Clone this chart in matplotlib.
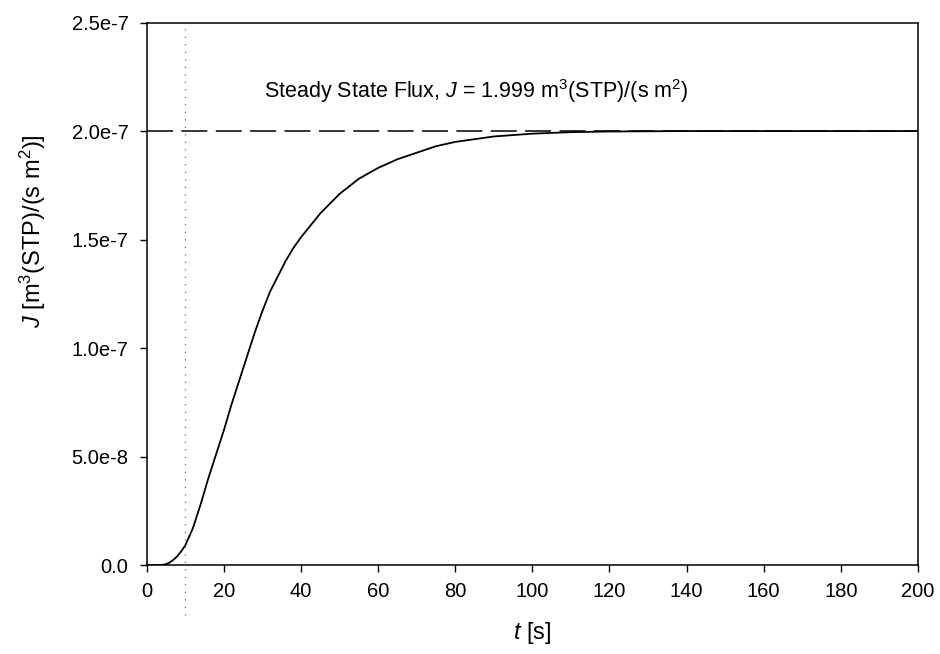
import matplotlib
matplotlib.use('Agg')
import matplotlib.pyplot as plt

plt.rcParams['font.family'] = ['Liberation Sans', 'DejaVu Sans']
plt.rcParams['mathtext.fontset'] = 'custom'
plt.rcParams['mathtext.rm'] = 'Liberation Sans'
plt.rcParams['mathtext.it'] = 'Liberation Sans:italic'

# flux curve (J in units of 1e-7)
t_s = [0, 3, 4, 5, 6, 7, 8, 9, 10, 12, 14, 16, 18, 20, 22, 24, 26, 28, 30, 32,
       34, 36, 38, 40, 45, 50, 55, 60, 65, 70, 75, 80, 90, 100, 110, 120, 140,
       160, 180, 200]
flux_e7 = [0, 0, 0.001, 0.004, 0.012, 0.025, 0.042, 0.064, 0.09, 0.17, 0.28,
           0.40, 0.51, 0.62, 0.74, 0.85, 0.96, 1.07, 1.17, 1.26, 1.33, 1.40,
           1.46, 1.51, 1.62, 1.71, 1.78, 1.83, 1.87, 1.90, 1.93, 1.95, 1.975,
           1.988, 1.995, 1.998, 2.0, 2.0, 2.0, 2.0]
flux = [v * 1e-7 for v in flux_e7]

j_steady = 2.0e-7
t_lag = 10
x_ticks = list(range(0, 201, 20))
y_ticks = [0.0, 0.5e-7, 1.0e-7, 1.5e-7, 2.0e-7, 2.5e-7]
y_tick_labels = ['0.0', '5.0e-8', '1.0e-7', '1.5e-7', '2.0e-7', '2.5e-7']

fig = plt.figure(figsize=(9.4, 6.54), dpi=100)
ax = fig.add_axes([0.156, 0.136, 0.8206, 0.8295])

ax.plot(t_s, flux, color='black', lw=1.3)
ax.plot([0, 200], [j_steady, j_steady], color='black', lw=1.1, dashes=(17, 5.5))
ax.plot([t_lag, t_lag], [-0.23e-7, 2.5e-7], color='#666666', lw=0.9,
        linestyle=(0, (1, 5)), clip_on=False)

ax.text(85.5, 2.185e-7,
        r'Steady State Flux, $J$ = 1.999 m$^3$(STP)/(s m$^2$)',
        ha='center', va='center', fontsize=15.5)

ax.set_xlim(0, 200)
ax.set_ylim(0, 2.5e-7)
ax.set_xticks(x_ticks)
ax.set_yticks(y_ticks)
ax.set_yticklabels(y_tick_labels)
ax.tick_params(direction='out', length=5, width=1, labelsize=14.5)
ax.tick_params(axis='x', pad=7)
ax.tick_params(axis='y', pad=8)
for s in ax.spines.values():
    s.set_linewidth(1.1)

ax.set_xlabel(r'$t$ [s]', fontsize=17)
ax.xaxis.label.set_verticalalignment('center')
ax.xaxis.set_label_coords(0.5, -0.125)
ax.set_ylabel(r'$J$ [m$^3$(STP)/(s m$^2$)]', fontsize=17)
ax.yaxis.label.set_verticalalignment('center')
ax.yaxis.set_label_coords(-0.147, 0.615)

fig.savefig('out.png', dpi=100)
